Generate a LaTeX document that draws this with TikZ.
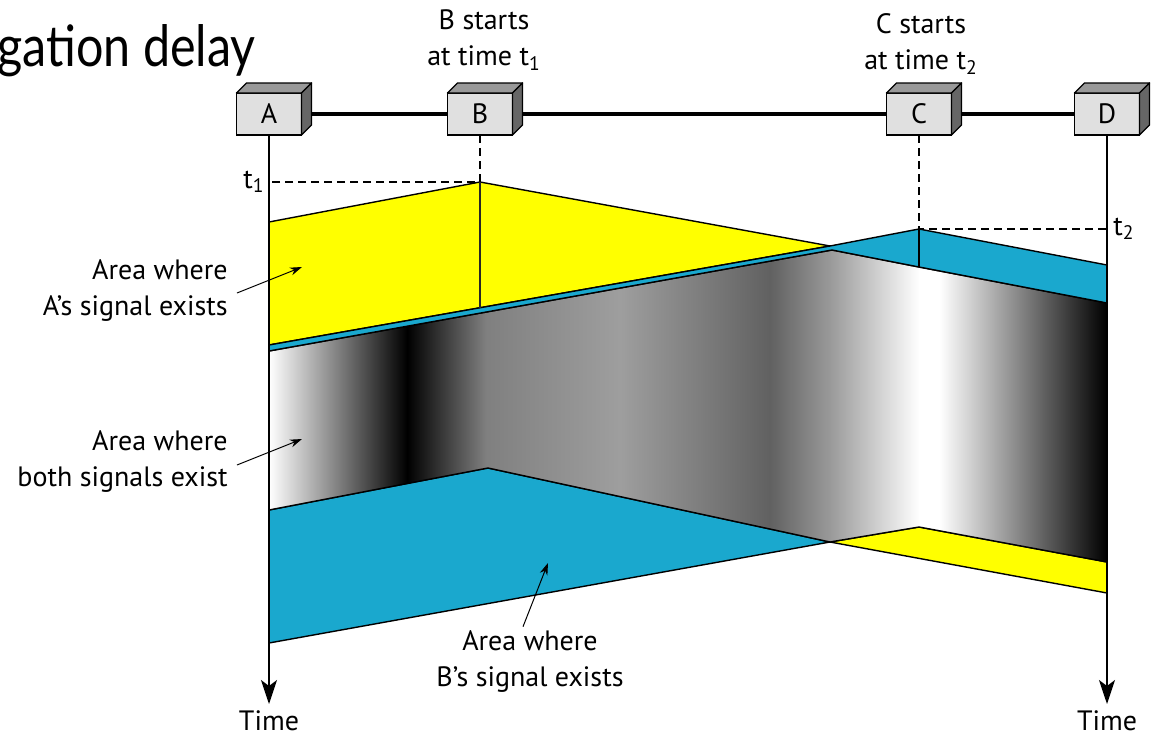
\documentclass[tikz,border=0pt]{standalone}
\usepackage{fontspec}
\setmainfont{PT Sans}
\newfontfamily\titlefont{Lato}
\usepackage{xcolor}
\usetikzlibrary{arrows.meta, positioning, calc}

\definecolor{sigyellow}{RGB}{255,255,0}
\definecolor{sigblue}{RGB}{26,168,206}

% grey band where the two signals overlap
\pgfdeclarehorizontalshading{bothsig}{100bp}{color(0bp)=(white); color(25bp)=(white);
  color(33.25bp)=(black); color(37.95bp)=(black!50); color(45.95bp)=(black!38);
  color(54.9bp)=(black!62); color(58.45bp)=(black!40); color(63.8bp)=(white);
  color(65bp)=(white); color(75bp)=(black); color(100bp)=(black)}

\tikzset{
    station/.style={
        rectangle, draw=black, fill=black!12, line width=0.7pt,
        minimum width=32.5pt, minimum height=21pt, inner sep=0pt, outer sep=0pt,
    },
    boxtop/.style={draw=black, fill=black!40, line width=0.7pt, line join=round},
    boxside/.style={draw=black, fill=black!60, line width=0.7pt, line join=round},
    link/.style={line width=2pt, draw=black},
    sigarea/.style={draw=black, line width=0.7pt, line join=round},
    timeline/.style={-{Stealth[length=12pt, width=8pt, inset=3pt]}, line width=0.8pt},
    tickline/.style={dashed, dash pattern=on 4pt off 2.5pt, line width=0.6pt},
    note/.style={-{Stealth[length=6pt, width=4pt]}, line width=0.5pt},
    lab/.style={align=center, inner sep=0pt},
}

\begin{document}
\begin{tikzpicture}[x=0.5pt, y=-0.5pt, font=\fontsize{14}{18}\selectfont]
    \useasboundingbox (0,0) rectangle (1164,750);

    % slide title (cut off)
    \node[anchor=base west, inner sep=0pt, transform shape, xscale=0.85,
          font=\titlefont\fontsize{28.5}{32}\selectfont] (title) at (-3,66) {gation delay};

    % signal areas
    \draw[sigarea, fill=sigblue] (269,510) -- (488,468) -- (830,542) -- (269,643) -- cycle;
    \draw[sigarea, fill=sigyellow] (830,542) -- (919,527) -- (1107,562) -- (1107,593) -- cycle;
    \draw[sigarea, shading=bothsig] (269,351) -- (832,250) -- (919,267) -- (1107,303)
        -- (1107,562) -- (919,527) -- (830,542) -- (488,468) -- (269,510) -- cycle;
    \draw[sigarea, fill=sigyellow] (269,222) -- (480,182) -- (830,246) -- (269,345) -- cycle;
    \draw[sigarea, fill=sigblue] (269,345) -- (830,246) -- (919,229) -- (1107,265)
        -- (1107,303) -- (919,267) -- (832,250) -- (269,351) -- cycle;
    \draw[line width=1.4pt, black!85] (480,182) -- (480,308);
    \draw[sigarea] (919,229) -- (919,267);

    % stations
    \foreach \n/\x in {A/269, B/480, C/919, D/1107} {
        \node[station] (\n) at (\x,114) {\n};
    }
    \draw[link] (A) -- (B);
    \draw[link] (B) -- (C);
    \draw[link] (C) -- (D);
    \foreach \n in {A, B, C, D} {
        \filldraw[boxtop] (\n.north west) -- ++(10,-10) -- ++(65,0) -- (\n.north east) -- cycle;
        \filldraw[boxside] (\n.north east) -- ++(10,-10) -- ++(0,42) -- (\n.south east) -- cycle;
    }

    % time axes
    \coordinate (tA) at (269,704);
    \coordinate (tD) at (1107,704);
    \draw[timeline] (A) -- (tA);
    \draw[timeline] (D) -- (tD);
    \node[below=0pt of tA] (timeA) {Time};
    \node[below=0pt of tD] (timeD) {Time};

    % start times
    \coordinate (pB) at (480,182);
    \coordinate (qA) at (269,182);
    \coordinate (pC) at (919,229);
    \coordinate (qD) at (1107,229);
    \draw[tickline] (B) -- (pB) -- (qA);
    \draw[tickline] (C) -- (pC) -- (qD);
    \node[left=2pt of qA, inner sep=0pt] (tone) {t\textsubscript{1}};
    \node[right=3pt of qD, inner sep=0pt] (ttwo) {t\textsubscript{2}};
    \node[lab] (bstart) at (484,40) {B starts\\at time t\textsubscript{1}};
    \node[lab] (cstart) at (921,44) {C starts\\at time t\textsubscript{2}};

    % notes
    \node[lab, align=right, anchor=east] (labA) at (228,291) {Area where\\A’s signal exists};
    \node[lab, align=right, anchor=east] (labboth) at (228,462) {Area where\\both signals exist};
    \node[lab] (labB) at (530,662) {Area where\\B’s signal exists};
    \coordinate (pA) at (302,267);
    \coordinate (pboth) at (302,439);
    \coordinate (pBsig) at (548,563);
    \draw[note] ([xshift=4.5pt,yshift=-1pt]labA.east) -- (pA);
    \draw[note] ([xshift=4.5pt,yshift=-1.5pt]labboth.east) -- (pboth);
    \draw[note] ([xshift=-3.5pt,yshift=2pt]labB.north) -- (pBsig);
\end{tikzpicture}
\end{document}
